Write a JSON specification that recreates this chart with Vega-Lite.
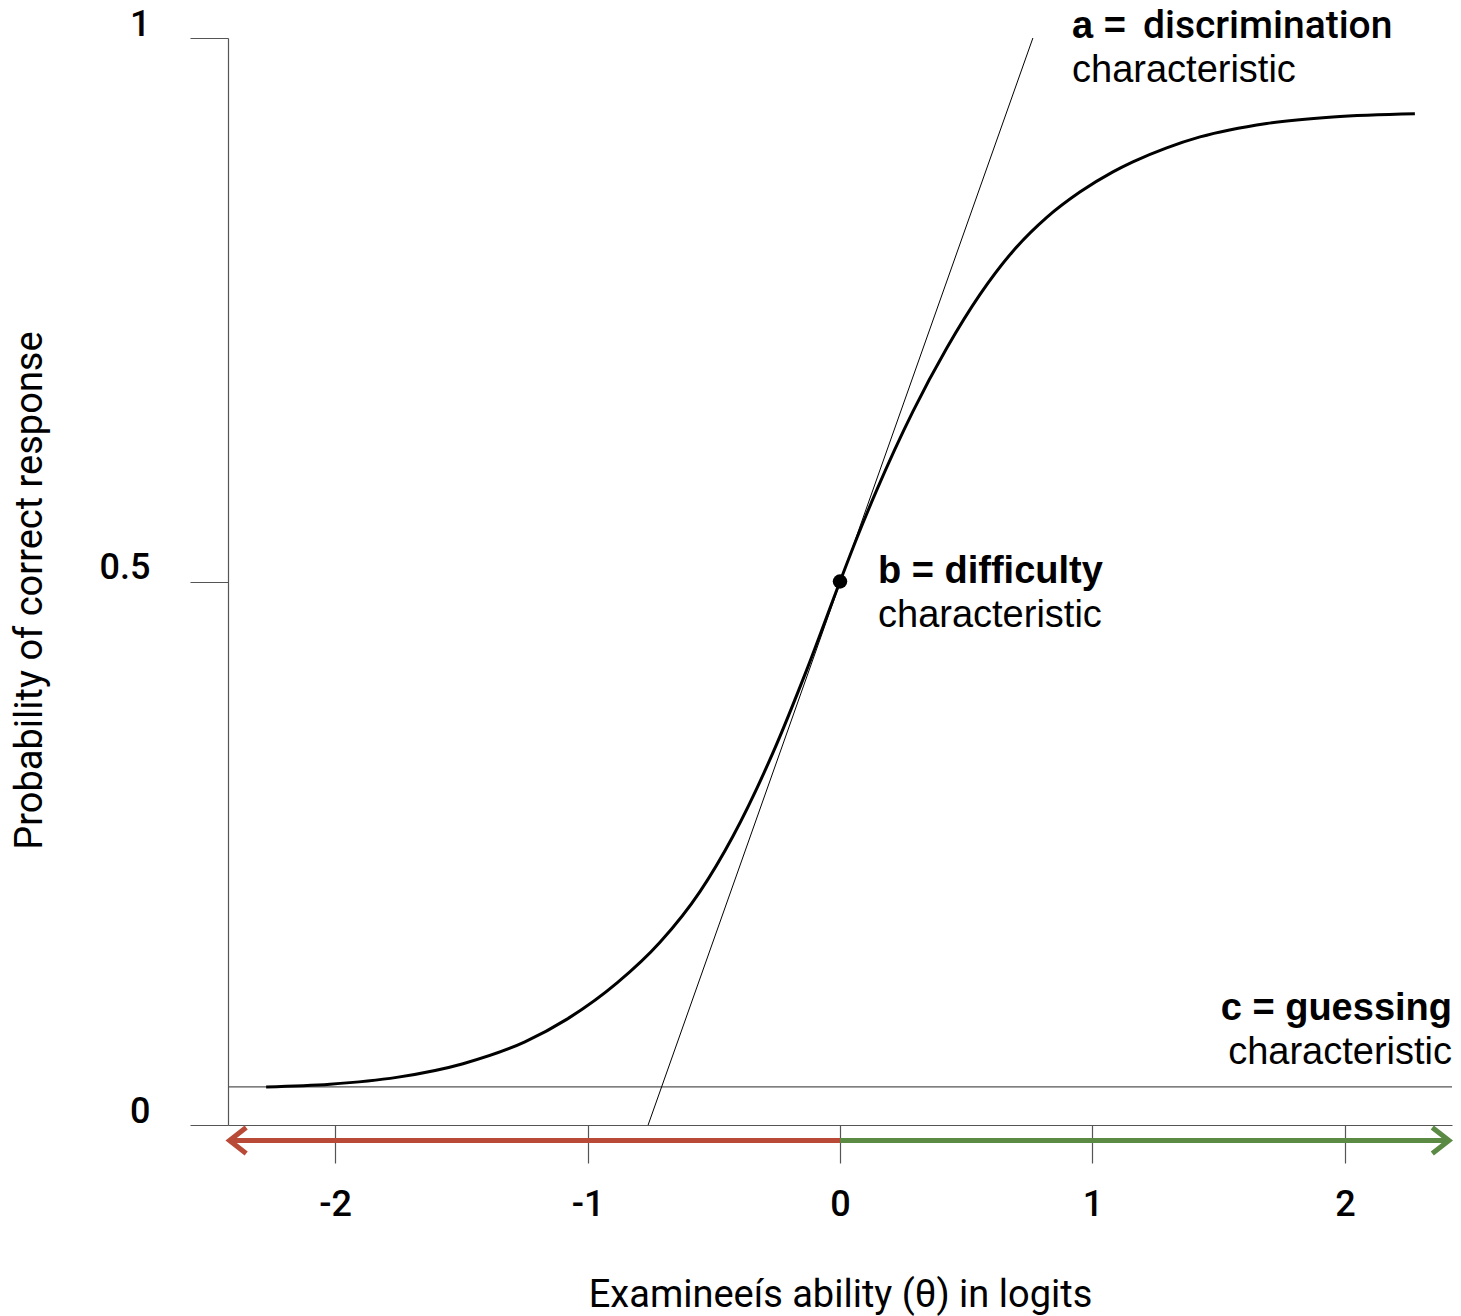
{
  "$schema": "https://vega.github.io/schema/vega-lite/v6.json",
  "width": 1224,
  "height": 1087,
  "autosize": {"type": "none"},
  "padding": {"left": 228, "top": 38, "right": 9, "bottom": 191},
  "background": "white",
  "config": {
    "view": {"stroke": null},
    "font": "Roboto",
    "axis": {
      "grid": false,
      "domainColor": "#555555",
      "domainWidth": 1.2,
      "tickColor": "#555555",
      "tickWidth": 1.2,
      "tickSize": 38,
      "labelFont": "Roboto",
      "labelFontSize": 36,
      "labelFontWeight": 500,
      "labelColor": "#000000",
      "titleFont": "Roboto",
      "titleFontSize": 38,
      "titleFontWeight": "normal",
      "titleColor": "#000000"
    }
  },
  "datasets": {
    "curve": [
      {"theta": -2.273, "p": 0.035},
      {"theta": -2.02, "p": 0.0375},
      {"theta": -1.756, "p": 0.0438},
      {"theta": -1.493, "p": 0.0564},
      {"theta": -1.248, "p": 0.0765},
      {"theta": -1.081, "p": 0.0974},
      {"theta": -0.883, "p": 0.1307},
      {"theta": -0.713, "p": 0.1681},
      {"theta": -0.554, "p": 0.215},
      {"theta": -0.424, "p": 0.2657},
      {"theta": -0.265, "p": 0.3428},
      {"theta": -0.131, "p": 0.4192},
      {"theta": 0, "p": 0.5},
      {"theta": 0.066, "p": 0.5396},
      {"theta": 0.145, "p": 0.5838},
      {"theta": 0.289, "p": 0.6565},
      {"theta": 0.423, "p": 0.7148},
      {"theta": 0.554, "p": 0.7639},
      {"theta": 0.685, "p": 0.8039},
      {"theta": 0.819, "p": 0.835},
      {"theta": 0.95, "p": 0.8583},
      {"theta": 1.081, "p": 0.8769},
      {"theta": 1.16, "p": 0.8861},
      {"theta": 1.294, "p": 0.899},
      {"theta": 1.426, "p": 0.909},
      {"theta": 1.69, "p": 0.9214},
      {"theta": 1.952, "p": 0.9274},
      {"theta": 2.277, "p": 0.9303}
    ],
    "tangent": [
      {"theta": -0.76, "p": 0},
      {"theta": 0.764, "p": 1}
    ],
    "guess": [
      {"theta": -2.424, "p": 0.035},
      {"theta": 2.424, "p": 0.035}
    ],
    "dot": [
      {"theta": 0, "p": 0.5}
    ],
    "arrows": [
      {"side": "lower", "seg": "shaft", "ord": 1, "theta": 0, "p": -0.0143},
      {"side": "lower", "seg": "shaft", "ord": 2, "theta": -2.416, "p": -0.0143},
      {"side": "lower", "seg": "head", "ord": 1, "theta": -2.352, "p": -0.0023},
      {"side": "lower", "seg": "head", "ord": 2, "theta": -2.418, "p": -0.0143},
      {"side": "lower", "seg": "head", "ord": 3, "theta": -2.352, "p": -0.0263},
      {"side": "higher", "seg": "shaft", "ord": 1, "theta": 0, "p": -0.0143},
      {"side": "higher", "seg": "shaft", "ord": 2, "theta": 2.41, "p": -0.0143},
      {"side": "higher", "seg": "head", "ord": 1, "theta": 2.346, "p": -0.0023},
      {"side": "higher", "seg": "head", "ord": 2, "theta": 2.412, "p": -0.0143},
      {"side": "higher", "seg": "head", "ord": 3, "theta": 2.346, "p": -0.0263}
    ],
    "notes": [
      {"param": "a", "line": "head", "part": "sym", "theta": 0.919, "p": 1.0, "text": "a ="},
      {"param": "a", "line": "head", "part": "name", "theta": 1.2, "p": 1.0, "text": "discrimination"},
      {"param": "a", "line": "sub", "part": "name", "theta": 0.919, "p": 0.9595, "text": "characteristic"},
      {"param": "b", "line": "head", "part": "both", "theta": 0.1505, "p": 0.4986, "text": "b = difficulty"},
      {"param": "b", "line": "sub", "part": "name", "theta": 0.1505, "p": 0.458, "text": "characteristic"},
      {"param": "c", "line": "head", "part": "both", "theta": 2.424, "p": 0.0966, "text": "c = guessing"},
      {"param": "c", "line": "sub", "part": "name", "theta": 2.424, "p": 0.0561, "text": "characteristic"}
    ]
  },
  "layer": [
    {
      "data": {"name": "guess"},
      "mark": {"type": "line", "color": "#555555", "strokeWidth": 1.2},
      "encoding": {
        "x": {
          "field": "theta", "type": "quantitative",
          "scale": {"domain": [-2.424, 2.424], "nice": false, "zero": false},
          "axis": {
            "values": [-2, -1, 0, 1, 2],
            "labelExpr": "'' + datum.value",
            "labelPadding": 52,
            "labelBaseline": "alphabetic",
            "title": "Examineeís ability (θ) in logits",
            "titleX": 612,
            "titleY": 170,
            "titleBaseline": "middle",
            "titleAlign": "center"
          }
        },
        "y": {
          "field": "p", "type": "quantitative",
          "scale": {"domain": [0, 1], "nice": false, "zero": false},
          "axis": {
            "values": [0, 0.5, 1],
            "labelExpr": "'' + datum.value",
            "labelPadding": 40,
            "labelBaseline": "alphabetic",
            "labelOffset": -3,
            "title": "Probability of correct response",
            "titleX": -198,
            "titleY": 552,
            "titleAngle": -90,
            "titleBaseline": "middle",
            "titleAlign": "center"
          }
        }
      }
    },
    {
      "data": {"name": "tangent"},
      "mark": {"type": "line", "color": "#000000", "strokeWidth": 1},
      "encoding": {
        "x": {"field": "theta", "type": "quantitative"},
        "y": {"field": "p", "type": "quantitative"}
      }
    },
    {
      "data": {"name": "curve"},
      "mark": {"type": "line", "color": "#000000", "strokeWidth": 3, "interpolate": "monotone"},
      "encoding": {
        "x": {"field": "theta", "type": "quantitative"},
        "y": {"field": "p", "type": "quantitative"}
      }
    },
    {
      "data": {"name": "dot"},
      "mark": {"type": "point", "shape": "circle", "filled": true, "color": "#000000", "size": 210, "opacity": 1},
      "encoding": {
        "x": {"field": "theta", "type": "quantitative"},
        "y": {"field": "p", "type": "quantitative"}
      }
    },
    {
      "data": {"name": "arrows"},
      "transform": [{"filter": "datum.side == 'lower'"}],
      "mark": {"type": "line", "color": "#B84A37", "strokeWidth": 5, "strokeJoin": "miter", "strokeCap": "butt"},
      "encoding": {
        "x": {"field": "theta", "type": "quantitative"},
        "y": {"field": "p", "type": "quantitative"},
        "detail": {"field": "seg"},
        "order": {"field": "ord"}
      }
    },
    {
      "data": {"name": "arrows"},
      "transform": [{"filter": "datum.side == 'higher'"}],
      "mark": {"type": "line", "color": "#5A8A44", "strokeWidth": 5, "strokeJoin": "miter", "strokeCap": "butt"},
      "encoding": {
        "x": {"field": "theta", "type": "quantitative"},
        "y": {"field": "p", "type": "quantitative"},
        "detail": {"field": "seg"},
        "order": {"field": "ord"}
      }
    },
    {
      "data": {"name": "notes"},
      "transform": [{"filter": "datum.param != 'c' && datum.line == 'head' && datum.part != 'name'"}],
      "mark": {"type": "text", "align": "left", "baseline": "alphabetic", "font": "Liberation Sans", "fontSize": 38, "fontWeight": "bold", "color": "#000000"},
      "encoding": {
        "x": {"field": "theta", "type": "quantitative"},
        "y": {"field": "p", "type": "quantitative"},
        "text": {"field": "text"}
      }
    },
    {
      "data": {"name": "notes"},
      "transform": [{"filter": "datum.param == 'a' && datum.line == 'head' && datum.part == 'name'"}],
      "mark": {"type": "text", "align": "left", "baseline": "alphabetic", "font": "Roboto", "fontSize": 39, "fontWeight": 500, "color": "#000000"},
      "encoding": {
        "x": {"field": "theta", "type": "quantitative"},
        "y": {"field": "p", "type": "quantitative"},
        "text": {"field": "text"}
      }
    },
    {
      "data": {"name": "notes"},
      "transform": [{"filter": "datum.param != 'c' && datum.line == 'sub'"}],
      "mark": {"type": "text", "align": "left", "baseline": "alphabetic", "font": "Liberation Sans", "fontSize": 38, "fontWeight": "normal", "color": "#000000"},
      "encoding": {
        "x": {"field": "theta", "type": "quantitative"},
        "y": {"field": "p", "type": "quantitative"},
        "text": {"field": "text"}
      }
    },
    {
      "data": {"name": "notes"},
      "transform": [{"filter": "datum.param == 'c' && datum.line == 'head'"}],
      "mark": {"type": "text", "align": "right", "baseline": "alphabetic", "font": "Liberation Sans", "fontSize": 38, "fontWeight": "bold", "color": "#000000"},
      "encoding": {
        "x": {"field": "theta", "type": "quantitative"},
        "y": {"field": "p", "type": "quantitative"},
        "text": {"field": "text"}
      }
    },
    {
      "data": {"name": "notes"},
      "transform": [{"filter": "datum.param == 'c' && datum.line == 'sub'"}],
      "mark": {"type": "text", "align": "right", "baseline": "alphabetic", "font": "Liberation Sans", "fontSize": 38, "fontWeight": "normal", "color": "#000000"},
      "encoding": {
        "x": {"field": "theta", "type": "quantitative"},
        "y": {"field": "p", "type": "quantitative"},
        "text": {"field": "text"}
      }
    }
  ]
}
